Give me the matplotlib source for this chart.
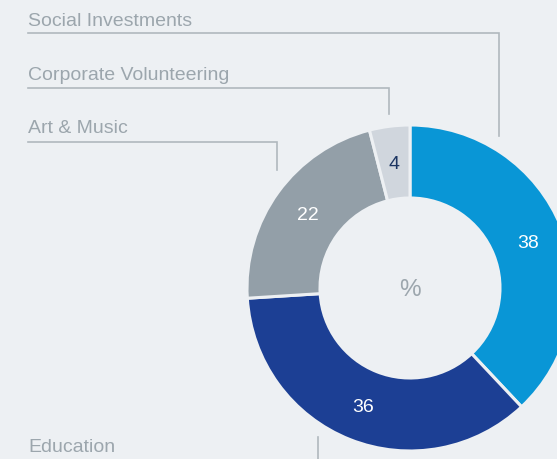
import matplotlib.pyplot as plt

# share of spending by area, in percent
categories = ["Social Investments", "Education", "Art & Music", "Corporate Volunteering"]
values = [38, 36, 22, 4]
colors = ["#0996d6", "#1c3f94", "#939fa8", "#d0d6dd"]
label_colors = ["white", "white", "white", "#1c3562"]

bg = "#edf0f3"
text_grey = "#9ca6ad"
line_grey = "#b0b8be"

W, H = 557, 459
fig = plt.figure(figsize=(W / 100, H / 100), dpi=100, facecolor=bg)
ax = fig.add_axes([0, 0, 1, 1])
ax.set_facecolor(bg)
plt.rcParams["font.family"] = ["Liberation Sans", "DejaVu Sans"]

cx, cy = 410, H - 288
r_out, r_in = 163, 90

wedges, texts = ax.pie(
    values,
    colors=colors,
    startangle=90,
    counterclock=False,
    center=(cx, cy),
    radius=r_out,
    labels=[str(v) for v in values],
    labeldistance=(r_out + r_in) / 2 / r_out,
    wedgeprops=dict(width=r_out - r_in, edgecolor=bg, linewidth=2.2),
    textprops=dict(fontsize=14),
    frame=True,
)
for t, c in zip(texts, label_colors):
    t.set_color(c)
    t.set_ha("center")
    t.set_va("center_baseline")
ax.set_xlim(0, W)
ax.set_ylim(0, H)
ax.set_aspect("equal")
ax.axis("off")

ax.text(cx, cy, "%", color=text_grey, fontsize=17.5, ha="center", va="center_baseline")

# callout labels with elbow leader lines (pixel layout, y measured from top)
callouts = [
    ("Social Investments", 25.5, 33, 499, 136),
    ("Corporate Volunteering", 80, 88, 389, 114),
    ("Art & Music", 133, 142, 277, 170),
]
for name, by, ly, vx, vy in callouts:
    ax.text(28, H - by, name, color=text_grey, fontsize=14, ha="left", va="baseline")
    ax.plot([28, vx, vx], [H - ly, H - ly, H - vy], color=line_grey, lw=1.2,
            solid_joinstyle="miter")

ax.text(28, H - 452, "Education", color=text_grey, fontsize=14, ha="left", va="baseline")
ax.plot([318, 318], [H - 437, 0], color=line_grey, lw=1.2)

fig.savefig("out.png", dpi=100, facecolor=bg)
